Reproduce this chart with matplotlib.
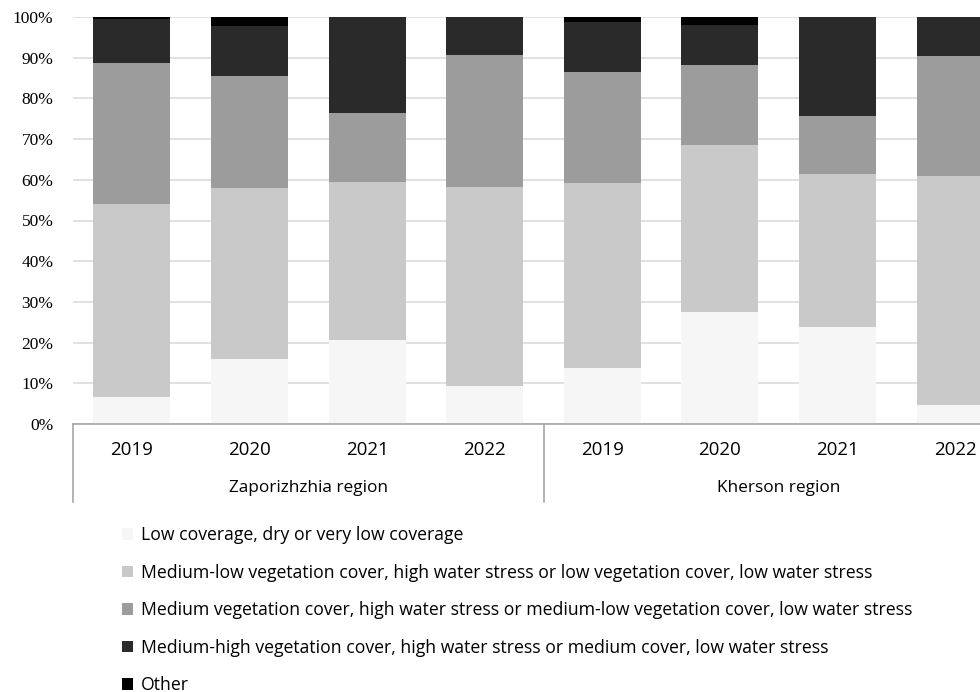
import matplotlib
matplotlib.use("Agg")
import matplotlib.pyplot as plt
import matplotlib.transforms as mtransforms
from matplotlib.patches import Patch
import numpy as np

# === DATA (percent of area) === #
years = ["2019", "2020", "2021", "2022", "2019", "2020", "2021", "2022"]
regions = ["Zaporizhzhia region", "Kherson region"]

low = [6.7, 16.0, 20.7, 9.4, 13.8, 27.5, 23.8, 4.6]
medium_low = [47.4, 42.0, 38.7, 48.9, 45.4, 41.0, 37.6, 56.4]
medium = [34.5, 27.6, 17.1, 32.4, 27.3, 19.6, 14.2, 29.3]
medium_high = [10.8, 12.2, 23.5, 9.3, 12.3, 10.0, 24.4, 9.7]
other = [0.6, 2.2, 0.0, 0.0, 1.2, 1.9, 0.0, 0.0]

series_names = [
    "Low coverage, dry or very low coverage",
    "Medium-low vegetation cover, high water stress or low vegetation cover, low water stress",
    "Medium vegetation cover, high water stress or medium-low vegetation cover, low water stress",
    "Medium-high vegetation cover, high water stress or medium cover, low water stress",
    "Other",
]
series_colors = ["#f6f6f6", "#c9c9c9", "#9c9c9c", "#2a2a2a", "#000000"]

# === STYLE === #
LABEL_FONT = ["Open Sans", "DejaVu Sans"]
TICK_FONT = ["Liberation Serif", "DejaVu Serif"]

fig = plt.figure(figsize=(9.8, 6.92), dpi=100)
ax = fig.add_axes([73 / 980, 268 / 692, 941 / 980, 407 / 692])

x = np.arange(len(years))
bottom = np.zeros(len(years))
for vals, color in zip([low, medium_low, medium, medium_high, other], series_colors):
    ax.bar(x, vals, bottom=bottom, width=0.655, color=color, zorder=2)
    bottom += np.array(vals)

ax.set_xlim(-0.5, len(years) - 0.5)
ax.set_ylim(0, 100)
ax.set_yticks(range(0, 101, 10))
ax.set_yticklabels([f"{v}%" for v in range(0, 101, 10)], fontfamily=TICK_FONT, fontsize=12.5)
ax.yaxis.grid(True, color="#dcdcdc", linewidth=1.2, zorder=0)
ax.tick_params(axis="y", length=0, pad=14)

for side in ["top", "right", "left"]:
    ax.spines[side].set_visible(False)
ax.spines["bottom"].set_color("#a6a6a6")
ax.spines["bottom"].set_linewidth(1.2)

# category axis: years, then regions underneath
ax.set_xticks(x)
ax.set_xticklabels(years, fontfamily=LABEL_FONT, fontsize=13.5)
ax.tick_params(axis="x", length=0, pad=12)

trans = mtransforms.blended_transform_factory(ax.transData, ax.transAxes)
for i, region in enumerate(regions):
    center = i * 4 + 1.5
    ax.text(center, -0.157, region, transform=trans, ha="center", va="center",
            fontfamily=LABEL_FONT, fontsize=12.4)
for xpos in [-0.5, 3.5, 7.5]:
    ax.plot([xpos, xpos], [0, -0.192], transform=trans, color="#a6a6a6",
            linewidth=1.2, clip_on=False)

# === LEGEND === #
handles = [Patch(facecolor=c, edgecolor="none") for c in series_colors]
fig.legend(handles, series_names, loc="upper left", bbox_to_anchor=(115 / 980, 1 - 519 / 692),
           frameon=False, prop={"family": LABEL_FONT, "size": 12.7},
           handlelength=0.62, handleheight=0.62, handletextpad=0.45,
           labelspacing=1.11, borderaxespad=0)

fig.savefig("out.png", dpi=100)
